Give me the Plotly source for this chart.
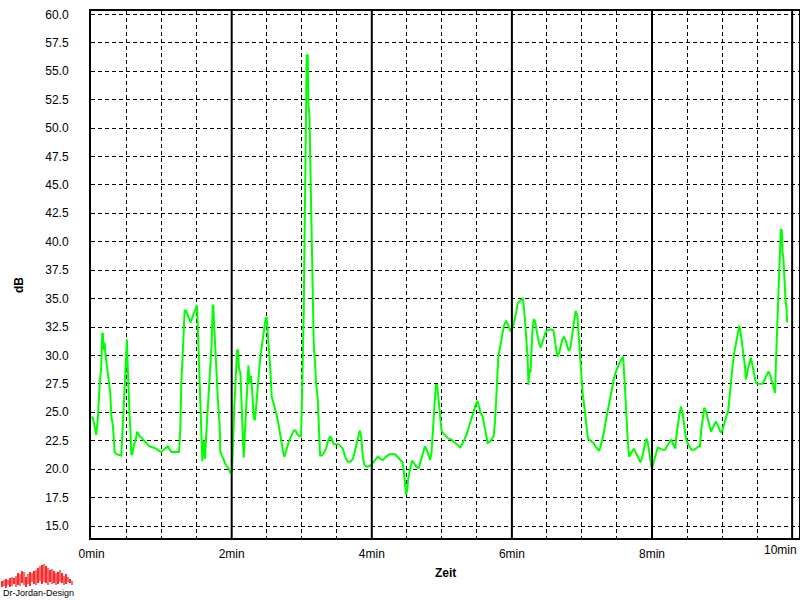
import plotly.graph_objects as go

# ---- data ----
time_min = [
    0.000, 0.019, 0.067, 0.090, 0.114, 0.138, 0.152, 0.162, 0.171, 0.186, 0.200, 0.219, 0.233, 0.248, 0.267,
    0.281, 0.305, 0.319, 0.329, 0.362, 0.400, 0.424, 0.438, 0.457, 0.471, 0.486, 0.495, 0.505, 0.514, 0.529,
    0.543, 0.557, 0.567, 0.581, 0.600, 0.629, 0.652, 0.686, 0.733, 0.781, 0.829, 0.876, 0.924, 0.962, 0.995,
    1.043, 1.090, 1.138, 1.186, 1.248, 1.267, 1.281, 1.300, 1.314, 1.329, 1.352, 1.376, 1.414, 1.448, 1.476,
    1.495, 1.505, 1.519, 1.533, 1.552, 1.567, 1.581, 1.600, 1.619, 1.638, 1.657, 1.676, 1.695, 1.714, 1.729,
    1.738, 1.748, 1.762, 1.781, 1.805, 1.829, 1.838, 1.876, 1.914, 1.952, 1.981, 2.005, 2.019, 2.038, 2.057,
    2.076, 2.090, 2.105, 2.124, 2.143, 2.157, 2.171, 2.186, 2.200, 2.219, 2.238, 2.257, 2.276, 2.295, 2.314,
    2.333, 2.352, 2.371, 2.390, 2.410, 2.433, 2.457, 2.476, 2.486, 2.500,
    2.514, 2.538, 2.552, 2.571, 2.600, 2.619, 2.648, 2.667, 2.690, 2.714, 2.738, 2.752, 2.776, 2.810, 2.848,
    2.886, 2.910, 2.933, 2.967, 2.990, 3.000, 3.014, 3.029, 3.038, 3.048, 3.062, 3.071, 3.086, 3.095, 3.110,
    3.119, 3.133, 3.143, 3.157, 3.171, 3.190, 3.205, 3.229, 3.243, 3.252, 3.262, 3.286, 3.314, 3.348, 3.381,
    3.410, 3.429, 3.457, 3.524, 3.552, 3.586, 3.619, 3.657, 3.695, 3.729, 3.752, 3.776, 3.800, 3.829, 3.848,
    3.871, 3.895, 3.933, 3.990, 4.038, 4.086, 4.124, 4.157, 4.205, 4.252, 4.333, 4.376, 4.414, 4.438, 4.452,
    4.471, 4.490, 4.505, 4.519, 4.543, 4.576, 4.605, 4.638, 4.671, 4.700, 4.733, 4.757, 4.781, 4.805, 4.833,
    4.852, 4.867, 4.886, 4.900, 4.914, 4.933, 4.952, 4.971, 4.995, 5.024, 5.057, 5.090, 5.138, 5.176, 5.210,
    5.243, 5.262, 5.290, 5.319, 5.352, 5.386, 5.414, 5.448, 5.481, 5.510, 5.529, 5.557, 5.583, 5.607, 5.630,
    5.654, 5.678, 5.711, 5.739, 5.758, 5.773, 5.787, 5.806, 5.825, 5.844, 5.867, 5.891, 5.915, 5.938, 5.962,
    5.986, 6.009, 6.033, 6.062, 6.081, 6.104, 6.128, 6.152, 6.166, 6.185, 6.204, 6.223, 6.237, 6.251, 6.265,
    6.280, 6.294, 6.313, 6.332, 6.346, 6.365, 6.389, 6.412, 6.441, 6.460, 6.483, 6.507, 6.555, 6.592, 6.611,
    6.630, 6.649, 6.673, 6.697, 6.720, 6.744, 6.768, 6.791, 6.815, 6.839, 6.863, 6.886, 6.910, 6.934, 6.948,
    6.962, 6.981, 6.995, 7.009, 7.028, 7.047, 7.066, 7.085, 7.123, 7.161, 7.194, 7.227, 7.246, 7.265, 7.289,
    7.313, 7.336, 7.360, 7.384, 7.408, 7.431, 7.455, 7.479, 7.502, 7.526, 7.550, 7.573, 7.588, 7.615, 7.634,
    7.653, 7.672, 7.701, 7.739, 7.772, 7.805, 7.834, 7.857, 7.881, 7.900, 7.919, 7.938, 7.957, 7.976, 7.995,
    8.010, 8.029, 8.052, 8.081, 8.119, 8.152, 8.185, 8.214, 8.247, 8.271, 8.295, 8.318, 8.333, 8.347, 8.366,
    8.390, 8.413, 8.437, 8.461, 8.485, 8.508, 8.537, 8.565, 8.594, 8.627, 8.660, 8.684, 8.703, 8.722, 8.746,
    8.770, 8.793, 8.817, 8.841, 8.865, 8.888, 8.912, 8.936, 8.960, 8.983, 9.007, 9.031, 9.059, 9.088, 9.102,
    9.126, 9.150, 9.173, 9.197, 9.221, 9.245, 9.259, 9.278, 9.302, 9.325, 9.340, 9.354, 9.373, 9.392, 9.411,
    9.435, 9.458, 9.482, 9.506, 9.544, 9.577, 9.610, 9.634, 9.663, 9.686, 9.705, 9.724, 9.743, 9.758, 9.767,
    9.781, 9.796, 9.810, 9.824, 9.838, 9.853, 9.862, 9.876, 9.891, 9.905, 9.919, 9.929,
]
level_db = [
    24.6, 24.5, 23.0, 24.5, 27.3, 29.0, 31.9, 31.9, 30.5, 31.1, 30.0, 29.1, 28.2, 27.6, 26.7,
    24.7, 23.8, 22.5, 21.5, 21.3, 21.2, 21.2, 22.8, 25.4, 27.9, 29.7, 31.4, 31.4, 29.4, 26.4,
    24.7, 23.2, 21.3, 21.3, 22.0, 22.6, 23.3, 22.9, 22.6, 22.3, 22.0, 21.9, 21.8, 21.6, 21.5,
    21.8, 22.0, 21.5, 21.5, 21.5, 23.5, 27.6, 30.0, 32.3, 34.0, 33.9, 33.5, 32.9, 33.5, 34.0,
    34.4, 34.4, 32.0, 29.1, 25.6, 23.1, 20.7, 22.5, 20.9, 23.2, 25.0, 27.3, 29.1, 31.0, 34.4,
    34.4, 32.9, 31.1, 28.2, 25.9, 23.8, 21.5, 21.0, 20.4, 20.1, 19.7, 19.8, 23.2, 25.6, 27.9,
    30.4, 30.5, 28.8, 28.5, 25.9, 24.1, 21.0, 22.9, 25.0, 27.0, 29.1, 27.6, 28.2, 26.7, 24.5,
    24.3, 26.0, 27.5, 28.5, 29.9, 31.0, 31.9, 32.8, 33.3, 33.3,
    32.2, 29.9, 28.7, 26.4, 25.8, 25.2, 24.6, 24.0, 23.1, 22.3, 21.4, 21.1, 21.7, 22.3, 22.9,
    23.4, 23.4, 23.1, 22.9, 22.9, 25.2, 28.4, 34.0, 39.0, 44.8, 51.0, 56.4, 56.4, 52.2, 51.0,
    48.1, 43.7, 39.6, 35.2, 31.1, 29.3, 27.6, 26.1, 24.3, 22.9, 21.2, 21.2, 21.4, 21.8, 22.6,
    22.9, 22.6, 22.2, 22.2, 22.0, 21.8, 21.1, 20.65, 20.65, 20.9, 21.4, 22.0, 22.8, 23.4, 22.9,
    21.1, 20.35, 20.2, 20.35, 20.7, 21.1, 20.9, 20.8, 21.1, 21.3, 21.3, 21.0, 20.8, 20.6, 20.1,
    18.8, 17.75, 18.2, 19.1, 19.9, 20.75, 20.5, 20.2, 20.1, 20.8, 21.5, 22.0, 21.8, 21.4, 20.8,
    21.4, 23.0, 24.6, 26.1, 27.4, 27.4, 26.1, 24.5, 23.4, 23.1, 22.9, 22.7, 22.6, 22.4, 22.2,
    22.0, 21.9, 22.2, 22.6, 23.0, 23.7, 24.3, 25.0, 25.6, 26.0, 25.6, 24.9, 24.6, 23.9, 23.2,
    22.3, 22.4, 22.6, 22.9, 24.1, 25.8, 27.9, 29.9, 30.5, 31.4, 32.0, 32.7, 33.0, 32.8, 32.4,
    32.1, 32.4, 33.0, 33.8, 34.6, 34.8, 34.9, 35.0, 34.6, 33.2, 31.4, 29.9, 27.4, 28.8, 28.5,
    30.2, 32.3, 33.2, 33.0, 32.4, 31.7, 31.0, 30.7, 31.3, 31.7, 32.1, 32.2, 32.3, 32.2, 31.4,
    30.5, 29.9, 30.2, 30.8, 31.4, 31.6, 31.3, 30.8, 30.4, 30.8, 31.7, 32.9, 33.9, 33.5, 32.3,
    30.8, 29.4, 27.9, 26.7, 25.8, 24.6, 23.5, 22.7, 22.5, 22.3, 22.0, 21.7, 21.6, 22.0, 22.6,
    23.2, 24.1, 24.9, 25.8, 26.6, 27.3, 27.9, 28.5, 28.9, 29.2, 29.5, 29.8, 29.9, 27.0, 24.4,
    22.6, 21.1, 21.4, 21.8, 21.4, 21.0, 20.6, 21.0, 21.7, 22.3, 22.7, 22.4, 21.6, 21.0, 20.1,
    20.3, 20.7, 21.3, 21.9, 21.8, 21.7, 21.7, 22.0, 22.4, 22.6, 22.3, 21.9, 21.8, 22.9, 23.8,
    24.8, 25.5, 24.9, 23.8, 22.7, 22.3, 22.0, 21.7, 21.7, 21.8, 22.0, 22.0, 23.5, 24.4, 25.4,
    25.1, 24.4, 23.9, 23.3, 23.6, 23.9, 24.2, 23.9, 23.6, 23.2, 23.5, 24.1, 24.6, 25.1, 26.1,
    27.9, 29.1, 30.2, 31.1, 31.9, 32.6, 32.3, 31.4, 30.2, 29.1, 27.9, 28.2, 28.9, 29.4, 29.8,
    29.1, 28.2, 27.6, 27.5, 27.5, 27.5, 27.9, 28.2, 28.6, 28.3, 27.9, 27.4, 26.9, 26.7, 29.1,
    31.4, 34.1, 37.3, 39.4, 41.1, 41.0, 39.1, 38.5, 36.4, 34.9, 34.2, 32.9,
]

x_major_ticks = [0, 2, 4, 6, 8]
x_tick_labels = ["0min", "2min", "4min", "6min", "8min"]
x_last_tick_label = "10min"  # sits against the right edge in the reference
x_thick_lines = [2, 4, 6, 8, 10]
y_ticks = [15.0, 17.5, 20.0, 22.5, 25.0, 27.5, 30.0, 32.5, 35.0, 37.5, 40.0, 42.5, 45.0, 47.5, 50.0, 52.5, 55.0, 57.5, 60.0]

# logo waveform (levels of top and bottom of each bar)
logo_top = [7, 8, 9, 8, 10, 11, 10, 12, 14, 13, 16, 15, 11, 13, 15, 14, 16, 17, 19, 21, 22, 23, 21, 19, 17, 18, 16, 14, 15, 17, 14, 12, 13, 11, 9, 7]
logo_bottom = [1, 2, 0, 3, 1, 2, 4, 1, 3, 2, 5, 3, 1, 4, 2, 6, 4, 3, 5, 7, 4, 6, 5, 3, 6, 4, 5, 3, 4, 6, 5, 3, 4, 6, 5, 3]

FONT = "Liberation Sans, Arial, sans-serif"
W, H = 800, 600

fig = go.Figure()
fig.add_trace(go.Scatter(
    x=time_min, y=level_db, mode="lines",
    line=dict(color="#00ff00", width=2),
    hoverinfo="skip", showlegend=False,
))

# logo as small bar trace on its own axes
logo_x = list(range(len(logo_top)))
fig.add_trace(go.Bar(
    x=logo_x,
    y=[t - b for t, b in zip(logo_top, logo_bottom)],
    base=logo_bottom,
    width=1.0,
    marker=dict(color=["#ff2a2a" if i % 2 == 0 else "#ff6a6a" for i in logo_x], line=dict(width=0)),
    xaxis="x2", yaxis="y2", showlegend=False, hoverinfo="skip",
))

dash = "4px,3px"
fig.update_layout(
    width=W, height=H,
    margin=dict(l=0, r=0, t=0, b=0),
    paper_bgcolor="white", plot_bgcolor="white",
    font=dict(family=FONT, size=12, color="black"),
    xaxis=dict(
        domain=[91 / W, 799 / W],
        range=[-0.008, 10.098],
        tickvals=x_major_ticks, ticktext=x_tick_labels,
        showgrid=False, zeroline=False, automargin=False,
        showline=True, linecolor="black", linewidth=2, mirror=True,
        ticks="", ticklabelstandoff=4,
        minor=dict(dtick=0.5, tick0=0, showgrid=True, gridcolor="black", gridwidth=1, griddash=dash),
        tickfont=dict(size=12),
    ),
    yaxis=dict(
        domain=[1 - 538 / H, 1 - 11 / H],
        range=[13.945, 60.29],
        tickvals=y_ticks, tickformat=".1f",
        showgrid=True, gridcolor="black", gridwidth=1, griddash=dash,
        zeroline=False, automargin=False,
        showline=True, linecolor="black", linewidth=2, mirror=True,
        ticks="", ticklabelstandoff=18,
        tickfont=dict(size=12),
    ),
    xaxis2=dict(domain=[1 / W, 73 / W], range=[-0.5, len(logo_top) - 0.5], visible=False, fixedrange=True),
    yaxis2=dict(domain=[1 - 588 / H, 1 - 563 / H], range=[0, 24], visible=False, fixedrange=True, anchor="x2"),
    bargap=0,
)

# thick 2-minute lines drawn above the trace
for xv in x_thick_lines:
    fig.add_shape(type="line", xref="x", yref="y domain", x0=xv, x1=xv, y0=0, y1=1,
                  line=dict(color="black", width=2), layer="above")

fig.add_annotation(text=x_last_tick_label, x=799 / W, y=1 - 550 / H, xref="paper", yref="paper",
                   xanchor="right", yanchor="middle", showarrow=False, font=dict(size=12, family=FONT))
fig.add_annotation(text="<b>dB</b>", x=10 / W, y=1 - 285 / H, xref="paper", yref="paper",
                   textangle=-90, showarrow=False, font=dict(size=12, family=FONT))
fig.add_annotation(text="<b>Zeit</b>", x=445 / W, y=1 - 582 / H, xref="paper", yref="paper",
                   showarrow=False, font=dict(size=12, family=FONT))
fig.add_annotation(text="Dr-Jordan-Design", x=1 / W, y=1 - 593 / H, xref="paper", yref="paper",
                   xanchor="left", yanchor="middle", showarrow=False, font=dict(size=9, family=FONT))

fig.write_html(
    "out.html",
    config={"displayModeBar": False},
    post_script="document.body.style.margin='0px';document.body.style.overflow='hidden';",
)
